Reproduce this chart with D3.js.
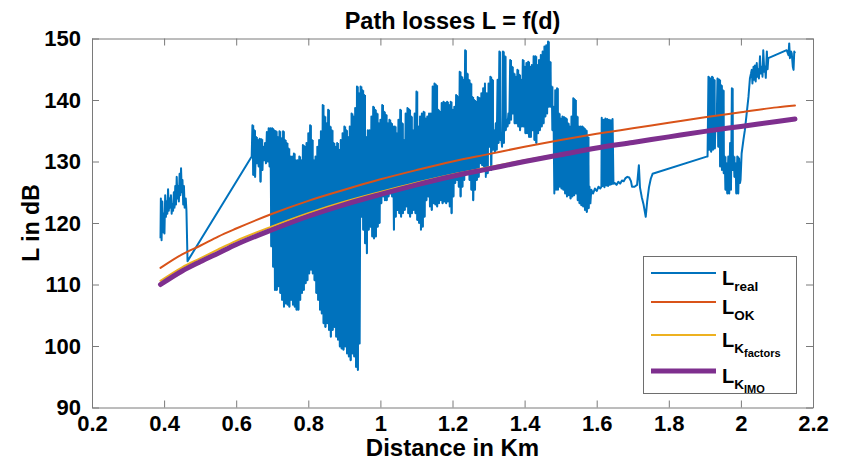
<!DOCTYPE html>
<html>
<head>
<meta charset="utf-8">
<script src="https://cdn.jsdelivr.net/npm/d3@7"></script>
<style>
  body { margin: 0; background: #fff; }
  svg { display: block; }
  text { font-family: Arial, "Liberation Sans", Helvetica, sans-serif; font-weight: bold; fill: #000; }
</style>
</head>
<body>
<div id="chart"></div>
<script>
// Axis ticks
const xTicks = [0.2, 0.4, 0.6, 0.8, 1.0, 1.2, 1.4, 1.6, 1.8, 2.0, 2.2];
const xTickLabels = ['0.2', '0.4', '0.6', '0.8', '1', '1.2', '1.4', '1.6', '1.8', '2', '2.2'];
const yTicks = [90, 100, 110, 120, 130, 140, 150];

// Model curves (distance in km -> loss in dB)
const curveD = [0.39, 0.45, 0.5, 0.55, 0.6, 0.7, 0.8, 0.9, 1.0, 1.1, 1.2, 1.3, 1.4, 1.5, 1.6, 1.7, 1.8, 1.9, 2.0, 2.1, 2.15];
const lossOK = [112.7, 114.9, 116.3, 117.8, 119.1, 121.5, 123.6, 125.4, 127.1, 128.6, 130.0, 131.2, 132.4, 133.5, 134.5, 135.4, 136.3, 137.2, 138.0, 138.8, 139.1];
const lossKfactors = [110.6, 112.8, 114.25, 115.7, 117.1, 119.45, 121.6, 123.45, 125.05, 126.55, 127.9, 129.05, 130.2, 131.25, 132.3, 133.2, 134.1, 134.95, 135.75, 136.55, 136.95];
const lossKIMO = [110.0, 112.2, 113.7, 115.1, 116.5, 118.9, 121.1, 123.0, 124.65, 126.2, 127.6, 128.8, 130.0, 131.1, 132.2, 133.1, 134.0, 134.9, 135.7, 136.5, 136.9];

// Measured losses: sparse parts as [d, L]
const realStart = [[0.390, 117.5], [0.391, 124.0], [0.393, 117.2], [0.395, 123.5], [0.397, 118.5], [0.399, 121.5],
  [0.401, 118.3], [0.403, 124.5], [0.405, 121.0], [0.407, 123.5], [0.409, 121.5], [0.411, 125.5], [0.413, 122.0],
  [0.415, 124.0], [0.417, 122.5], [0.419, 124.5], [0.421, 121.5], [0.423, 123.0], [0.425, 122.0], [0.427, 125.0],
  [0.429, 122.5], [0.431, 126.0], [0.433, 123.0], [0.435, 127.5], [0.437, 124.0], [0.439, 126.0], [0.441, 123.5],
  [0.443, 128.0], [0.445, 124.5], [0.447, 128.9], [0.449, 125.0], [0.451, 127.0], [0.453, 123.0], [0.455, 126.0],
  [0.457, 122.5], [0.460, 124.0], [0.462, 122.0], [0.465, 113.8], [0.643, 130.8]];
const realMid = [[1.585, 125.4], [1.590, 124.8], [1.595, 125.6], [1.600, 125.2], [1.605, 125.9], [1.610, 125.6],
  [1.613, 125.9], [1.614, 137.1], [1.6165, 126.0], [1.619, 136.8], [1.6215, 125.8], [1.624, 137.0], [1.6265, 126.1],
  [1.629, 136.9], [1.6315, 126.0], [1.634, 136.8], [1.6365, 126.2], [1.639, 136.7], [1.6415, 126.3], [1.644, 136.9],
  [1.6465, 126.4], [1.650, 126.5], [1.655, 126.2], [1.660, 126.7], [1.665, 126.4], [1.670, 126.9], [1.675, 126.8],
  [1.680, 127.3], [1.685, 127.5], [1.690, 127.4], [1.695, 126.8], [1.698, 125.9], [1.705, 125.9], [1.712, 126.2],
  [1.717, 129.4], [1.720, 125.8], [1.725, 124.2], [1.730, 123.0], [1.736, 121.0], [1.740, 123.5], [1.745, 125.8],
  [1.750, 127.2], [1.755, 128.0], [1.905, 130.8]];
const realEnd = [[1.999, 127.0], [2.002, 131.3], [2.007, 133.5], [2.011, 135.1], [2.016, 137.8], [2.021, 140.5],
  [2.025, 143.5], [2.028, 144.3], [2.030, 144.9], [2.032, 142.7], [2.035, 145.4], [2.037, 143.3], [2.039, 145.6],
  [2.041, 143.0], [2.044, 146.0], [2.046, 143.8], [2.048, 145.0], [2.050, 143.5], [2.053, 147.1], [2.055, 144.3],
  [2.058, 145.4], [2.060, 143.8], [2.062, 148.1], [2.065, 144.6], [2.067, 145.4], [2.069, 143.6], [2.072, 147.9],
  [2.074, 145.0], [2.076, 146.8], [2.127, 148.1], [2.132, 147.3], [2.134, 149.2], [2.136, 146.8], [2.139, 147.9],
  [2.141, 147.6], [2.144, 145.4], [2.146, 144.9], [2.148, 147.9], [2.150, 147.6]];

// Measured losses: dense parts, sampled every 0.005 km (peak / trough per sample)
const denseStep = 0.005;
const realB = { start: 0.645,
  hi: [135.9, 135.1, 134.0, 133.5, 133.7, 133.6, 132.4, 133.0, 134.8, 135.4],
  lo: [127.8, 127.5, 129.7, 129.2, 126.7, 128.6, 130.2, 129.7, 130.0, 129.2] };
const realC = { start: 0.695,
  hi: [135.4, 135.4, 135.1, 134.9, 134.0, 134.9, 133.8, 134.9, 133.5, 133.0,
       132.1, 130.8, 130.8, 131.3, 130.2, 130.2, 130.8, 130.2, 132.7, 132.4,
       133.0, 134.6, 135.9, 133.5, 130.2, 130.8, 132.4, 133.5, 134.9, 139.2,
       137.3, 136.2, 138.4, 135.7, 135.1, 133.0, 132.4, 133.0, 131.9, 133.5,
       134.6, 135.7, 135.1, 134.0, 135.7, 137.8, 137.3, 138.7, 142.2, 141.1],
  lo: [116.2, 112.9, 109.1, 109.1, 109.7, 108.6, 107.5, 106.4, 106.9, 106.7,
       106.4, 107.5, 106.7, 106.4, 105.9, 105.9, 107.5, 108.6, 109.1, 110.2,
       110.7, 111.8, 112.4, 111.8, 110.7, 108.6, 107.5, 105.9, 105.3, 103.7,
       103.1, 103.7, 102.6, 101.5, 102.6, 103.1, 101.5, 101.0, 99.9, 99.6,
       99.4, 99.9, 98.8, 98.3, 97.7, 98.8, 98.3, 96.6, 96.1, 100.4] };
const realD = { start: 0.945,
  hi: [142.2, 141.6, 140.8, 134.0, 135.1, 135.1, 137.3, 138.9, 138.4, 137.8,
       136.2, 136.8, 139.2, 138.1, 137.6, 136.2, 136.8, 136.2, 135.7, 135.7,
       134.6, 136.8, 138.4, 136.2, 133.5, 137.8, 138.7, 138.4, 137.3, 135.1,
       137.8, 141.4, 135.7, 137.3, 137.8, 138.1, 137.0, 137.3, 137.8, 137.8,
       142.2, 142.7, 142.4, 138.4, 138.1, 139.5, 139.7, 139.5, 139.7, 139.2,
       139.7, 138.4, 138.9, 140.8, 140.5, 144.6, 143.8, 143.3, 148.1, 144.3,
       143.3, 142.7, 140.5, 140.0, 139.7, 140.5, 140.3, 141.1, 141.9, 142.7],
  lo: [121.0, 118.9, 116.7, 115.1, 118.9, 119.4, 117.8, 117.5, 117.8, 119.4,
       120.0, 123.2, 124.3, 123.7, 123.7, 124.3, 124.8, 124.3, 118.9, 121.0,
       122.1, 121.6, 121.0, 121.6, 122.1, 122.7, 121.6, 121.0, 121.6, 122.1,
       121.6, 120.5, 120.0, 118.9, 119.4, 121.0, 123.7, 124.3, 122.7, 122.1,
       123.2, 123.0, 122.7, 123.2, 123.7, 123.2, 123.5, 123.2, 123.5, 122.7,
       121.6, 124.3, 126.5, 127.0, 125.9, 124.3, 125.9, 127.0, 128.1, 128.6,
       127.0, 125.4, 123.7, 125.4, 127.0, 127.5, 129.7, 129.4, 129.2, 127.5] };
const realE = { start: 1.295,
  hi: [141.1, 142.7, 143.8, 143.3, 135.1, 136.2, 143.3, 147.9, 134.0, 147.9,
       147.1, 136.8, 137.8, 146.5, 145.4, 144.3, 143.8, 144.9, 144.1, 143.3,
       146.5, 145.4, 146.0, 146.2, 145.4, 145.7, 147.1, 147.1, 145.7, 146.5,
       147.3, 147.9, 148.7, 148.9, 149.5, 146.2, 142.2, 138.9],
  lo: [128.1, 132.4, 128.6, 131.9, 131.6, 131.9, 133.0, 133.5, 132.4, 133.0,
       135.1, 135.7, 136.2, 136.8, 137.8, 136.2, 136.2, 135.7, 135.1, 135.7,
       135.7, 134.6, 134.6, 134.0, 134.0, 135.1, 133.5, 133.0, 134.6, 135.1,
       135.7, 136.2, 137.3, 137.8, 138.9, 138.9, 135.1, 124.8] };
const realF = { start: 1.485,
  hi: [141.6, 141.9, 137.8, 137.0, 137.3, 137.2, 137.0, 136.2, 135.7, 137.3,
       140.3, 140.0, 137.3, 135.7, 135.7, 135.7, 135.4, 135.1, 134.0, 125.9],
  lo: [125.4, 125.4, 125.9, 125.6, 125.4, 124.8, 124.3, 124.5, 124.0, 124.3,
       124.5, 124.8, 123.7, 123.2, 122.9, 122.7, 122.1, 121.8, 122.4, 123.2] };
const realH = { start: 1.905,
  hi: [130.8, 143.8, 143.5, 143.8, 143.3, 137.3, 143.5, 143.3, 142.4, 141.6,
       130.8, 129.7, 130.8, 133.0, 141.9, 130.8, 129.7, 130.8, 130.5],
  lo: [130.8, 131.9, 131.6, 131.9, 132.1, 135.1, 132.4, 129.2, 128.6, 128.1,
       125.4, 124.8, 124.8, 125.4, 128.6, 127.5, 124.8, 124.8, 126.5] };

const width = 841, height = 462;
const margin = {top: 38.5, right: 28, bottom: 54.5, left: 92};
const plotW = width - margin.left - margin.right;
const plotH = height - margin.top - margin.bottom;

const svg = d3.select('#chart').append('svg')
  .attr('width', width)
  .attr('height', height);

const x = d3.scaleLinear().domain([0.2, 2.2]).range([0, plotW]);
const y = d3.scaleLinear().domain([90, 150]).range([plotH, 0]);

const g = svg.append('g').attr('transform', `translate(${margin.left},${margin.top})`);

g.append('defs').append('clipPath').attr('id', 'plotclip')
  .append('rect').attr('width', plotW).attr('height', plotH);

// interleave peaks and troughs of a dense block
function zigzag(block) {
  const pts = [];
  block.hi.forEach((h, i) => {
    pts.push([block.start + i * denseStep, h]);
    pts.push([block.start + (i + 0.5) * denseStep, block.lo[i]]);
  });
  return pts;
}

const denseBlocks = [realB, realC, realD, realE, realF, realH];
const realPts = [].concat(
  realStart, zigzag(realB), zigzag(realC), zigzag(realD), zigzag(realE), zigzag(realF),
  realMid, zigzag(realH), realEnd);

const plot = g.append('g').attr('clip-path', 'url(#plotclip)');

const rawLine = d3.line().x(d => x(d[0])).y(d => y(d[1]));
const smoothLine = d3.line().x(d => x(d[0])).y(d => y(d[1])).curve(d3.curveMonotoneX);

// solid band under each dense block, one step per sample (peak to trough)
const bandArea = d3.area()
  .x(d => x(d.d))
  .y0(d => y(d.lo))
  .y1(d => y(d.hi))
  .curve(d3.curveStepAfter);

denseBlocks.forEach(b => {
  const rows = b.hi.map((h, i) => ({d: b.start + i * denseStep, hi: h, lo: b.lo[i]}));
  plot.append('path')
    .attr('d', bandArea(rows))
    .attr('fill', '#0072BD');
});

plot.append('path')
  .attr('d', rawLine(realPts))
  .attr('fill', 'none')
  .attr('stroke', '#0072BD')
  .attr('stroke-width', 2)
  .attr('stroke-linejoin', 'round');

const models = [
  {vals: lossOK, color: '#D95319', w: 2},
  {vals: lossKfactors, color: '#EDB120', w: 2},
  {vals: lossKIMO, color: '#7E2F8E', w: 5}
];
models.forEach(m => {
  plot.append('path')
    .attr('d', smoothLine(curveD.map((d, i) => [d, m.vals[i]])))
    .attr('fill', 'none')
    .attr('stroke', m.color)
    .attr('stroke-width', m.w)
    .attr('stroke-linecap', 'round');
});

// Axes (MATLAB style: box, inward ticks)
const axisColor = '#7a7a7a';
function styleAxis(sel, showLabels) {
  sel.selectAll('path').attr('stroke', axisColor).attr('stroke-width', 1);
  sel.selectAll('line').attr('stroke', axisColor).attr('stroke-width', 1);
  sel.selectAll('text').style('font-size', '22px').attr('fill', '#000');
  if (!showLabels) sel.selectAll('text').remove();
}

g.append('g')
  .attr('transform', `translate(0,${plotH})`)
  .call(d3.axisBottom(x).tickValues(xTicks).tickSizeInner(-7).tickSizeOuter(0).tickPadding(8)
    .tickFormat((d, i) => xTickLabels[i]))
  .call(sel => styleAxis(sel, true));

g.append('g')
  .call(d3.axisTop(x).tickValues(xTicks).tickSizeInner(-7).tickSizeOuter(0))
  .call(sel => styleAxis(sel, false));

g.append('g')
  .call(d3.axisLeft(y).tickValues(yTicks).tickSizeInner(-7).tickSizeOuter(0).tickPadding(11))
  .call(sel => styleAxis(sel, true));

g.append('g')
  .attr('transform', `translate(${plotW},0)`)
  .call(d3.axisRight(y).tickValues(yTicks).tickSizeInner(-7).tickSizeOuter(0))
  .call(sel => styleAxis(sel, false));

g.selectAll('.domain').attr('fill', 'none');

// Titles
svg.append('text')
  .attr('x', margin.left + plotW / 2)
  .attr('y', 29)
  .attr('text-anchor', 'middle')
  .style('font-size', '23.5px')
  .text('Path losses L = f(d)');

svg.append('text')
  .attr('x', margin.left + plotW / 2)
  .attr('y', 456)
  .attr('text-anchor', 'middle')
  .style('font-size', '24px')
  .text('Distance in Km');

svg.append('text')
  .attr('transform', `translate(39,${margin.top + plotH / 2}) rotate(-90)`)
  .attr('text-anchor', 'middle')
  .style('font-size', '23px')
  .text('L in dB');

// Legend
const legendItems = [
  {color: '#0072BD', w: 2, sub: 'real', subsub: null},
  {color: '#D95319', w: 2, sub: 'OK', subsub: null},
  {color: '#EDB120', w: 2, sub: 'K', subsub: 'factors'},
  {color: '#7E2F8E', w: 5, sub: 'K', subsub: 'IMO'}
];
const legendRows = [273, 302, 335, 371];

const legend = svg.append('g');
legend.append('rect')
  .attr('x', 643.5).attr('y', 256.5)
  .attr('width', 153).attr('height', 137)
  .attr('fill', '#fff')
  .attr('stroke', '#6e6e6e')
  .attr('stroke-width', 1);

legendItems.forEach((it, i) => {
  const ly = legendRows[i];
  legend.append('line')
    .attr('x1', 651).attr('x2', 716)
    .attr('y1', ly).attr('y2', ly)
    .attr('stroke', it.color)
    .attr('stroke-width', it.w);
  const t = legend.append('text')
    .attr('x', 722)
    .attr('y', ly + 12)
    .style('font-size', '20px');
  t.append('tspan').text('L');
  t.append('tspan').attr('dy', 6).style('font-size', '13.5px').text(it.sub);
  if (it.subsub) {
    t.append('tspan').attr('dy', 4).style('font-size', '11px').text(it.subsub);
  }
});
</script>
</body>
</html>
